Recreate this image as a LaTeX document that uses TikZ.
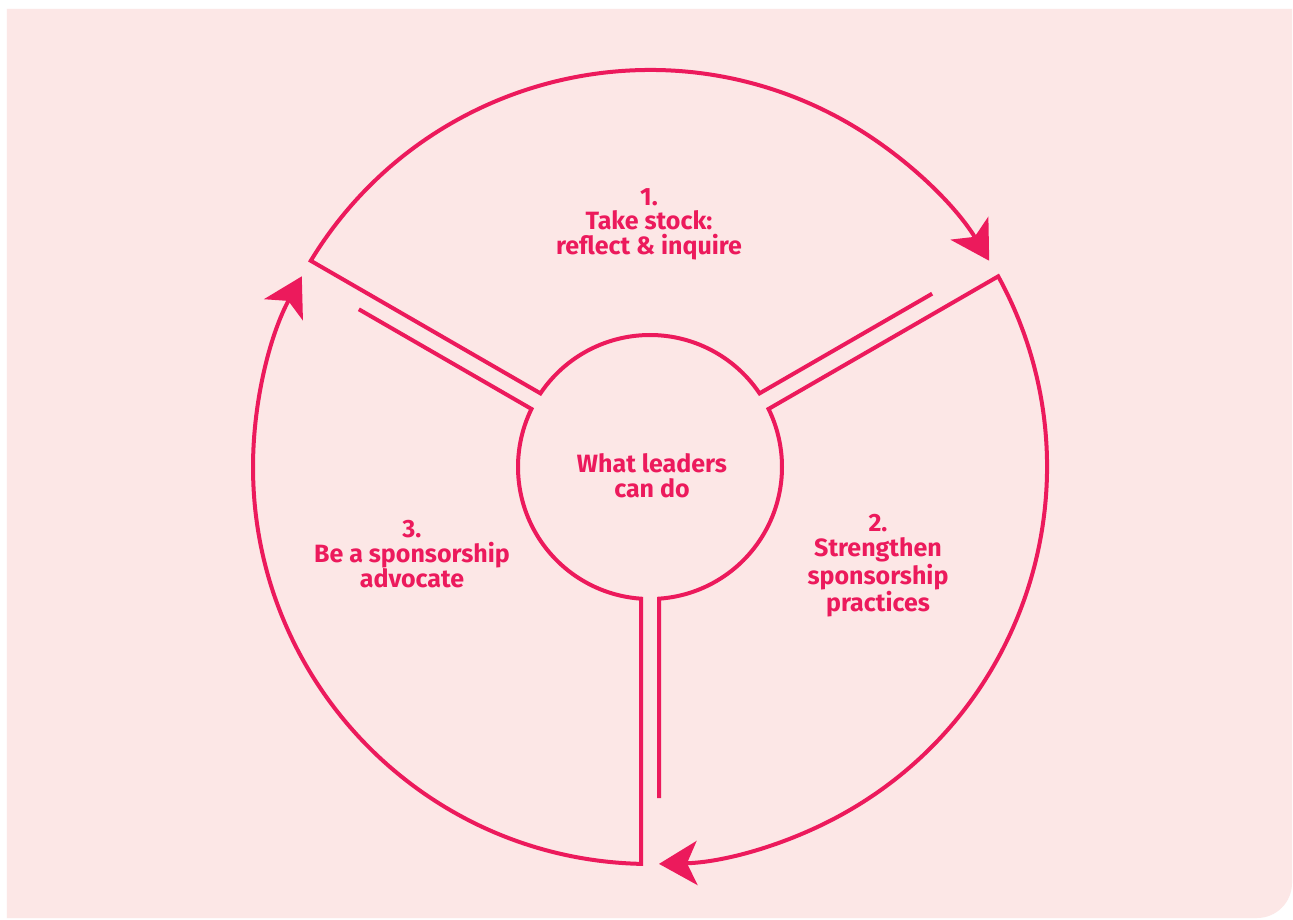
\documentclass[tikz,border=0pt]{standalone}
\usepackage{fontspec}
\setmainfont{Fira Sans Bold}
\usetikzlibrary{arrows.meta,calc}

\definecolor{ink}{HTML}{EC1A5C}
\definecolor{paper}{HTML}{FCE7E6}

\begin{document}
\begin{tikzpicture}[x=0.5pt,y=0.5pt,
  ring/.style={draw=ink,line width=2pt,line join=miter},
  tip/.style={-{Stealth[length=19pt,width=22pt,inset=5pt]}},
  lab/.style={text=ink,align=center,font=\fontsize{12.5}{12.3}\selectfont}]
\useasboundingbox (-650,467) rectangle (643,-452);
\fill[white] (-650,467) rectangle (643,-452);
% panel with one rounded corner
\fill[paper] (-643,458) -- (642,458) -- (642,-416)
  arc[start angle=0,end angle=-90,radius=35] -- (-643,-451) -- cycle;

% three identical loops: free spoke end -> inner arc -> spoke -> outer arc with arrow
\foreach \t in {150,30,-90} {
  \pgfmathsetmacro\p{\t-120}
  \draw[ring,tip] ($(\p:331)+(\p+90:9)$) -- (\p+3.91:132)
    arc[start angle=\p+3.91, end angle=\t-3.91, radius=132]
    -- (\t-1.30:397)
    arc[start angle=\t-1.30, end angle=\p+1.30, radius=397];
}

\node[lab] (stock) at (-1,243) {1.\\Take stock:\\reflect \& inquire};
\node[lab] (hub) at (2,-9) {What leaders\\can do};
\node[lab] (strengthen) at (228,-99) {2.\\Strengthen\\sponsorship\\practices};
\node[lab] (advocate) at (-238,-87) {3.\\Be a sponsorship\\advocate};
\end{tikzpicture}
\end{document}
